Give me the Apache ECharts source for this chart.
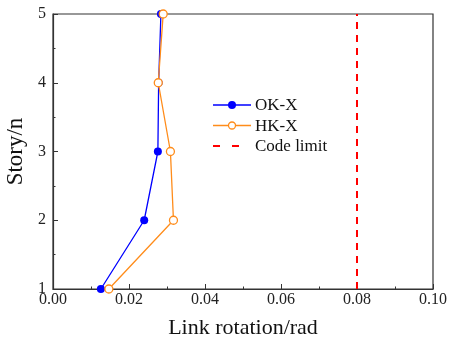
<!DOCTYPE html>
<html><head><meta charset="utf-8">
<script src="https://cdn.jsdelivr.net/npm/echarts@6/dist/echarts.min.js"></script>
<style>html,body{margin:0;padding:0;background:#fff}#c{width:449px;height:343px}</style>
</head><body><div id="c"></div>
<script>
const stories = [1, 2, 3, 4, 5];
const okX = [0.0126, 0.0240, 0.0276, 0.0278, 0.0284];
const hkX = [0.0147, 0.0317, 0.0309, 0.0277, 0.0290];
const codeLimit = 0.08;
const xTicks = ['0.00','0.02','0.04','0.06','0.08','0.10'];
const legendNames = ['OK-X', 'HK-X', 'Code limit'];

const font = 'Liberation Serif';
const BLUE = '#0000ff', ORANGE = '#ff8c1a', RED = '#ff0000';
const chart = echarts.init(document.getElementById('c'));

const lx0 = 213, lx1 = 251, lmx = 232, ltx = 255, ly = [105, 125.5, 146];
const txt = (s, y) => ({type: 'text', x: ltx, y: y + 1,
  style: {text: s, font: '17px "Liberation Serif"', fill: '#111', verticalAlign: 'middle'}});
const legendGraphics = [
  {type: 'line', shape: {x1: lx0, y1: ly[0], x2: lx1, y2: ly[0]}, style: {stroke: BLUE, lineWidth: 1.3}},
  {type: 'circle', shape: {cx: lmx, cy: ly[0], r: 4}, style: {fill: BLUE}},
  txt(legendNames[0], ly[0]),
  {type: 'line', shape: {x1: lx0, y1: ly[1], x2: lx1, y2: ly[1]}, style: {stroke: ORANGE, lineWidth: 1.3}},
  {type: 'circle', shape: {cx: lmx, cy: ly[1], r: 3.5}, style: {fill: '#fff', stroke: ORANGE, lineWidth: 1.3}},
  txt(legendNames[1], ly[1]),
  {type: 'line', shape: {x1: lx0, y1: ly[2], x2: 220, y2: ly[2]}, style: {stroke: RED, lineWidth: 2}},
  {type: 'line', shape: {x1: 232, y1: ly[2], x2: 239, y2: ly[2]}, style: {stroke: RED, lineWidth: 2}},
  txt(legendNames[2], ly[2])
];

chart.setOption({
  animation: false,
  grid: {left: 53, right: 16, top: 14, bottom: 54, show: true, borderColor: '#333', borderWidth: 1.2,
         containLabel: false, outerBoundsMode: 'none'},
  graphic: legendGraphics,
  xAxis: {
    type: 'value', min: 0, max: 0.1, interval: 0.02,
    name: 'Link rotation/rad', nameLocation: 'middle', nameGap: 28,
    nameTextStyle: {fontFamily: font, fontSize: 22, color: '#111'},
    axisLine: {onZero: false, lineStyle: {color: '#333', width: 1.2}},
    axisTick: {inside: true, length: 5, lineStyle: {color: '#333'}},
    minorTick: {show: true, splitNumber: 2, length: 2.5, lineStyle: {color: '#333'}},
    splitLine: {show: false},
    axisLabel: {fontFamily: font, fontSize: 16, color: '#222', margin: 3, hideOverlap: false,
      formatter: v => xTicks[Math.round(v / 0.02)]}
  },
  yAxis: {
    type: 'value', min: 1, max: 5, interval: 1,
    name: 'Story/n', nameLocation: 'middle', nameGap: 24,
    nameTextStyle: {fontFamily: font, fontSize: 23, color: '#111'},
    axisLine: {onZero: false, lineStyle: {color: '#333', width: 1.2}},
    axisTick: {inside: true, length: 5, lineStyle: {color: '#333'}},
    minorTick: {show: true, splitNumber: 2, length: 2.5, lineStyle: {color: '#333'}},
    splitLine: {show: false},
    axisLabel: {fontFamily: font, fontSize: 16, color: '#222', margin: 7}
  },
  series: [
    {name: 'OK-X', type: 'line', data: stories.map((s, i) => [okX[i], s]),
     symbol: 'circle', symbolSize: 8,
     lineStyle: {width: 1.3, color: BLUE}, itemStyle: {color: BLUE}, z: 3},
    {name: 'HK-X', type: 'line', data: stories.map((s, i) => [hkX[i], s]),
     symbol: 'circle', symbolSize: 8,
     lineStyle: {width: 1.3, color: ORANGE},
     itemStyle: {color: '#fff', borderColor: ORANGE, borderWidth: 1.3}, z: 4},
    {name: 'Code limit', type: 'line', data: [[codeLimit, 1], [codeLimit, 5]],
     symbol: 'none',
     lineStyle: {width: 2, color: RED, type: [7, 6]}, z: 2}
  ]
});
</script></body></html>
